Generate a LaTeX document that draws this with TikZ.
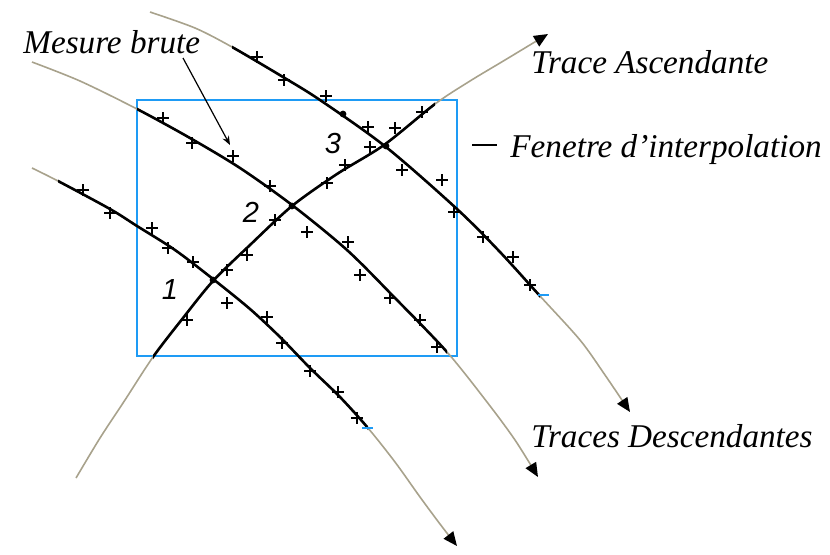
\documentclass[tikz,border=0pt]{standalone}
\usepackage{fontspec}
\setmainfont{Liberation Serif}
\newfontfamily\numfont{Liberation Sans}
\usetikzlibrary{arrows.meta}
\definecolor{tracegray}{RGB}{168,162,140}
\definecolor{winblue}{RGB}{30,155,245}
\tikzset{
  crs/.pic={\draw[line width=1.05pt,line cap=butt] (-6,0)--(6,0) (0,-6)--(0,6);},
  gline/.style={draw=tracegray,line width=0.8pt},
  bline/.style={draw=black,line width=1.3pt},
  tiptri/.style={-{Triangle[length=7pt,width=6pt,color=black]}},
  lbl/.style={font=\itshape\fontsize{16.6}{19}\selectfont,inner sep=0pt},
  num/.style={font=\numfont\itshape\fontsize{14.5}{16}\selectfont,inner sep=0pt},
  bluetick/.style={draw=winblue,line width=1pt},
}
\begin{document}
\begin{tikzpicture}[x=0.5pt,y=-0.5pt]
\useasboundingbox (0,0) rectangle (830,554);
% interpolation window
\draw[winblue,line width=1pt] (137,100) rectangle (457,356);
% ---- trace A (top descending)
\draw[gline,tiptri] plot[smooth] coordinates {(150,12) (195,28) (232,47) (283,77) (320,100) (386,147) (457,209) (500,252) (540,296) (580,340) (605,375) (630,412)};
\begin{scope}
\clip (232,0) rectangle (540,554);
\draw[bline] plot[smooth] coordinates {(150,12) (195,28) (232,47) (283,77) (320,100) (386,147) (457,209) (500,252) (540,296) (580,340) (605,375) (630,412)};
\end{scope}
% ---- trace B (middle descending)
\draw[gline,tiptri] plot[smooth] coordinates {(32,62) (80,81) (137,109) (190,138) (240,168) (292,205) (347,250) (395,298) (447,352) (487,402) (515,440) (538,477)};
\begin{scope}
\clip (137,0) rectangle (447,554);
\draw[bline] plot[smooth] coordinates {(32,62) (80,81) (137,109) (190,138) (240,168) (292,205) (347,250) (395,298) (447,352) (487,402) (515,440) (538,477)};
\end{scope}
% ---- trace C (bottom descending)
\draw[gline,tiptri] plot[smooth] coordinates {(32,168) (58,181) (110,209) (137,226) (175,250) (213,279) (250,309) (280,337) (310,368) (340,397) (368,428) (395,462) (420,497) (440,524) (457,546)};
\begin{scope}
\clip (58,0) rectangle (368,554);
\draw[bline] plot[smooth] coordinates {(32,168) (58,181) (110,209) (137,226) (175,250) (213,279) (250,309) (280,337) (310,368) (340,397) (368,428) (395,462) (420,497) (440,524) (457,546)};
\end{scope}
% ---- ascending trace
\draw[gline,tiptri] plot[smooth] coordinates {(76,478) (100,438) (125,400) (153,357) (183,318) (213,281) (250,245) (292,206) (337,174) (384,145) (435,104) (470,81) (505,60) (548,34)};
\begin{scope}
\clip (153,0) rectangle (435,554);
\draw[bline] plot[smooth] coordinates {(76,478) (100,438) (125,400) (153,357) (183,318) (213,281) (250,245) (292,206) (337,174) (384,145) (435,104) (470,81) (505,60) (548,34)};
\end{scope}
% blue ticks at ends of measured parts
\draw[bluetick] (538,295) -- (549,295);
\draw[bluetick] (362,428) -- (373,428);
% crossing dots
\foreach \x/\y in {213/280, 292/206, 386/146, 343/114}
  \fill (\x,\y) circle (3.4);
% raw measurements
\foreach \x/\y in {257/57, 284/80, 326/96, 368/127, 402/170, 442/180, 454/212, 483/237, 513/257, 530/285,
                   163/118, 192/143, 233/156, 270/186, 307/232, 348/242, 360/275, 390/298, 420/320, 437/347,
                   83/190, 110/213, 152/228, 168/248, 193/262, 227/303, 267/317, 282/343, 310/371, 338/392, 357/418,
                   187/320, 227/270, 247/255, 275/220, 327/183, 345/165, 370/147, 395/128, 422/112}
  \pic at (\x,\y) {crs};
% labels
\node[lbl,anchor=base west] (mb) at (23,53) {Mesure brute};
\node[lbl,anchor=base west] (ta) at (531,73) {Trace Ascendante};
\node[lbl,anchor=base west] (fi) at (510,157) {Fenetre d'interpolation};
\node[lbl,anchor=base west] (td) at (531,447) {Traces Descendantes};
\node[num] (n1) at (170,290) {1};
\node[num] (n2) at (251,212) {2};
\node[num] (n3) at (333,144) {3};
% leaders
\coordinate (ms) at (183,58);
\coordinate (mt) at (230,145);
\draw[line width=0.6pt,-{Stealth[length=4.5pt,width=3.5pt]}] (ms) -- (mt);
\coordinate (fl1) at (472,145);
\coordinate (fl2) at (497,145);
\draw[line width=0.8pt] (fl1) -- (fl2);
\end{tikzpicture}
\end{document}
